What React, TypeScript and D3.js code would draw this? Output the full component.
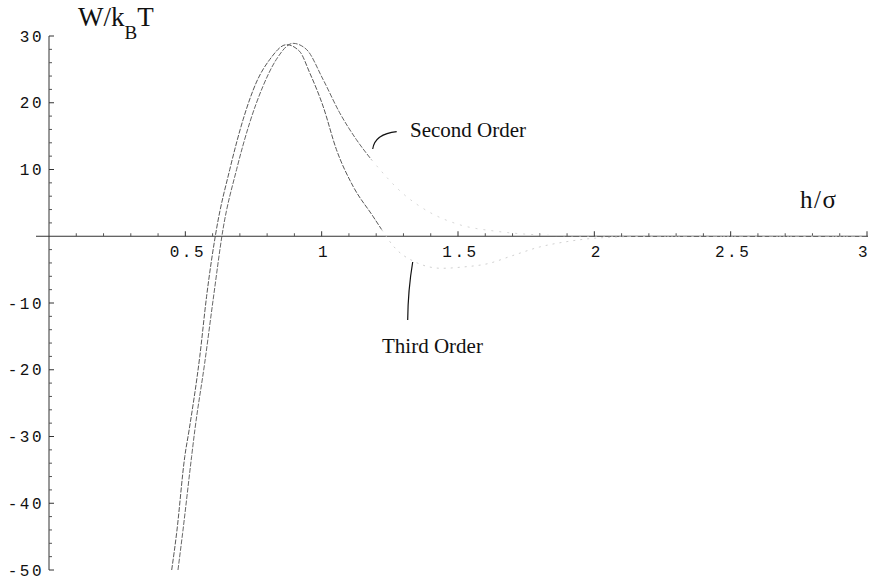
import React from 'react';
import * as d3 from 'd3';

// h/sigma and W/kBT
const thirdH = [0.45, 0.468, 0.498, 0.514, 0.553, 0.578, 0.614, 0.663, 0.712, 0.761, 0.81, 0.871, 0.919, 0.956, 1.005, 1.054, 1.115, 1.188, 1.22, 1.27, 1.34, 1.44, 1.52, 1.61, 1.7, 1.8, 1.9, 2.0, 2.2, 2.5, 3.0];
const thirdW = [-50, -44.5, -33, -29, -18, -9, 1, 10, 17.5, 23.1, 26.5, 28.7, 27.7, 24.5, 19.5, 13, 7.5, 3, 1, -1.8, -3.8, -4.8, -4.6, -4.1, -2.9, -1.6, -0.8, -0.3, 0, 0, 0];

const secondH = [0.473, 0.49, 0.523, 0.535, 0.571, 0.602, 0.638, 0.688, 0.736, 0.784, 0.834, 0.895, 0.944, 1.005, 1.066, 1.127, 1.182, 1.298, 1.4, 1.5, 1.65, 1.8, 2.0, 2.5, 3.0];
const secondW = [-50, -44.5, -33, -29, -19, -9.5, 1, 10, 17, 22.4, 26.5, 28.9, 28, 23.5, 18.5, 14.5, 11.5, 6.4, 3.5, 1.8, 0.7, 0.2, 0, 0, 0];

const xTicks = [0.5, 1, 1.5, 2, 2.5, 3];
const xTickLabels = ['0.5', '1', '1.5', '2', '2.5', '3'];
const yTicks = [30, 20, 10, -10, -20, -30, -40, -50];
const yTickLabels = ['30', '20', '10', '-10', '-20', '-30', '-40', '-50'];

const W = 873;
const H = 584;

export default function App() {
  const x = d3.scaleLinear().domain([0, 3]).range([49, 867]);
  const y = d3.scaleLinear().domain([-50, 30]).range([570, 36]);

  const line = d3.line<[number, number]>()
    .x(d => x(d[0]))
    .y(d => y(d[1]))
    .curve(d3.curveMonotoneX);

  const third: [number, number][] = thirdH.map((h, i) => [h, thirdW[i]]);
  const second: [number, number][] = secondH.map((h, i) => [h, secondW[i]]);

  // the scan fades out after the curves leave the steep part
  const thirdMain = third.filter(d => d[0] <= 1.22);
  const thirdTail = third.filter(d => d[0] >= 1.22);
  const secondMain = second.filter(d => d[0] <= 1.182);
  const secondTail = second.filter(d => d[0] >= 1.182);

  const minorX = d3.range(0.1, 3.01, 0.1).filter(v => Math.abs(v * 2 - Math.round(v * 2)) > 0.01);
  const minorY = d3.range(-50, 30.1, 2).filter(v => v % 10 !== 0);

  const mono = '"Liberation Mono", "DejaVu Sans Mono", monospace';
  const serif = '"Liberation Serif", "DejaVu Serif", serif';
  const y0 = y(0);

  return (
    <svg width={W} height={H} style={{ position: 'absolute', left: 0, top: 0, background: '#fff' }}>
      {/* axes */}
      <line x1={36} x2={868} y1={y0} y2={y0} stroke="#333" strokeWidth={1} />
      <line x1={x(0)} x2={x(0)} y1={y(30)} y2={y(-50)} stroke="#333" strokeWidth={1} />

      {xTicks.map(t => (
        <line key={'xt' + t} x1={x(t)} x2={x(t)} y1={y0} y2={y0 - 5} stroke="#333" />
      ))}
      {minorX.map(t => (
        <line key={'xm' + t} x1={x(t)} x2={x(t)} y1={y0} y2={y0 - 3} stroke="#555" />
      ))}
      {yTicks.map(t => (
        <line key={'yt' + t} x1={x(0)} x2={x(0) + 5} y1={y(t)} y2={y(t)} stroke="#333" />
      ))}
      {minorY.map(t => (
        <line key={'ym' + t} x1={x(0)} x2={x(0) + 3} y1={y(t)} y2={y(t)} stroke="#555" />
      ))}

      {xTicks.map((t, i) => (
        <text key={'xl' + t} x={Math.min(x(t) + 2.5, 864)} y={257} textAnchor="middle"
          fontFamily={mono} fontSize={16} letterSpacing={2.5} fill="#111">
          {xTickLabels[i]}
        </text>
      ))}
      {yTicks.map((t, i) => (
        <text key={'yl' + t} x={44} y={y(t) + 5.5} textAnchor="end"
          fontFamily={mono} fontSize={16} letterSpacing={2.5} fill="#111">
          {yTickLabels[i]}
        </text>
      ))}

      {/* curves */}
      <path d={line(thirdMain) || ''} fill="none" stroke="#444" strokeWidth={0.9} strokeDasharray="5 1.5" />
      <path d={line(thirdTail) || ''} fill="none" stroke="#c4c4c4" strokeWidth={0.8} strokeDasharray="2 5" />
      <path d={line(secondMain) || ''} fill="none" stroke="#555" strokeWidth={0.9} strokeDasharray="5 1.5" />
      <path d={line(secondTail) || ''} fill="none" stroke="#cccccc" strokeWidth={0.8} strokeDasharray="2 6" />

      {/* axis titles */}
      <text x={78} y={26} fontFamily={serif} fontSize={27} fill="#111">
        W/k<tspan fontSize={19} dy={13}>B</tspan><tspan dy={-13}>T</tspan>
      </text>
      <text x={800} y={208} fontFamily={serif} fontSize={25} letterSpacing={1.5} fill="#111">h/σ</text>

      {/* annotations */}
      <path d="M372.7,149 Q375,134 396.7,131.7" fill="none" stroke="#111" strokeWidth={1.2} />
      <text x={410} y={137} fontFamily={serif} fontSize={21} fill="#111">Second Order</text>
      <path d="M412.7,262 Q408,290 407.7,320" fill="none" stroke="#111" strokeWidth={1.2} />
      <text x={382} y={353} fontFamily={serif} fontSize={21} fill="#111">Third Order</text>
    </svg>
  );
}
